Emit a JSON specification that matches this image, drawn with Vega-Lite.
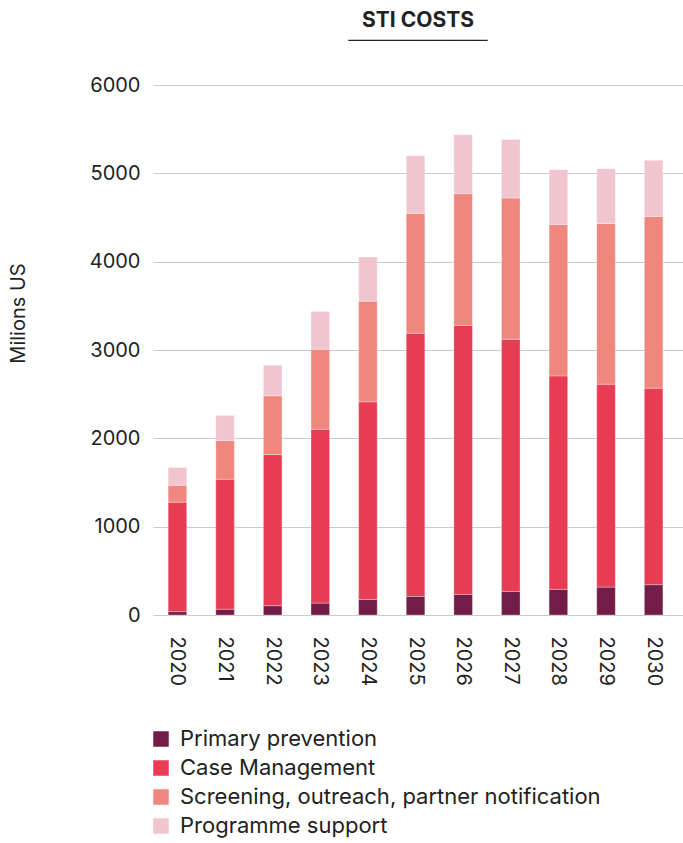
{
  "$schema": "https://vega.github.io/schema/vega-lite/v6.json",
  "width": 530,
  "height": 530,
  "autosize": {"type": "none"},
  "padding": {"left": 153, "top": 85, "right": 0, "bottom": 228},
  "background": "white",
  "title": {
    "text": "STI COSTS",
    "subtitle": "──────────────",
    "anchor": "middle",
    "frame": "group",
    "font": "Inter",
    "fontSize": 21,
    "fontWeight": 700,
    "color": "#222222",
    "subtitleFont": "DejaVu Sans Mono",
    "subtitleFontSize": 16.5,
    "subtitleColor": "#222222",
    "subtitlePadding": 2,
    "offset": 26
  },
  "data": {
    "values": [
      {"year": "2020", "cat": "Primary prevention", "v": 38},
      {"year": "2020", "cat": "Case Management", "v": 1239},
      {"year": "2020", "cat": "Screening, outreach, partner notification", "v": 191},
      {"year": "2020", "cat": "Programme support", "v": 202},
      {"year": "2021", "cat": "Primary prevention", "v": 65},
      {"year": "2021", "cat": "Case Management", "v": 1471},
      {"year": "2021", "cat": "Screening, outreach, partner notification", "v": 438},
      {"year": "2021", "cat": "Programme support", "v": 285},
      {"year": "2022", "cat": "Primary prevention", "v": 105},
      {"year": "2022", "cat": "Case Management", "v": 1711},
      {"year": "2022", "cat": "Screening, outreach, partner notification", "v": 665},
      {"year": "2022", "cat": "Programme support", "v": 346},
      {"year": "2023", "cat": "Primary prevention", "v": 135},
      {"year": "2023", "cat": "Case Management", "v": 1968},
      {"year": "2023", "cat": "Screening, outreach, partner notification", "v": 905},
      {"year": "2023", "cat": "Programme support", "v": 428},
      {"year": "2024", "cat": "Primary prevention", "v": 176},
      {"year": "2024", "cat": "Case Management", "v": 2238},
      {"year": "2024", "cat": "Screening, outreach, partner notification", "v": 1139},
      {"year": "2024", "cat": "Programme support", "v": 500},
      {"year": "2025", "cat": "Primary prevention", "v": 211},
      {"year": "2025", "cat": "Case Management", "v": 2978},
      {"year": "2025", "cat": "Screening, outreach, partner notification", "v": 1356},
      {"year": "2025", "cat": "Programme support", "v": 655},
      {"year": "2026", "cat": "Primary prevention", "v": 233},
      {"year": "2026", "cat": "Case Management", "v": 3046},
      {"year": "2026", "cat": "Screening, outreach, partner notification", "v": 1491},
      {"year": "2026", "cat": "Programme support", "v": 667},
      {"year": "2027", "cat": "Primary prevention", "v": 267},
      {"year": "2027", "cat": "Case Management", "v": 2854},
      {"year": "2027", "cat": "Screening, outreach, partner notification", "v": 1600},
      {"year": "2027", "cat": "Programme support", "v": 663},
      {"year": "2028", "cat": "Primary prevention", "v": 290},
      {"year": "2028", "cat": "Case Management", "v": 2417},
      {"year": "2028", "cat": "Screening, outreach, partner notification", "v": 1713},
      {"year": "2028", "cat": "Programme support", "v": 621},
      {"year": "2029", "cat": "Primary prevention", "v": 316},
      {"year": "2029", "cat": "Case Management", "v": 2297},
      {"year": "2029", "cat": "Screening, outreach, partner notification", "v": 1819},
      {"year": "2029", "cat": "Programme support", "v": 621},
      {"year": "2030", "cat": "Primary prevention", "v": 343},
      {"year": "2030", "cat": "Case Management", "v": 2225},
      {"year": "2030", "cat": "Screening, outreach, partner notification", "v": 1943},
      {"year": "2030", "cat": "Programme support", "v": 636}
    ]
  },
  "transform": [
    {"calculate": "indexof(['Primary prevention', 'Case Management', 'Screening, outreach, partner notification', 'Programme support'], datum.cat)", "as": "stackOrder"}
  ],
  "mark": {"type": "bar", "stroke": "#ffffff", "strokeWidth": 0.6, "strokeOpacity": 0.5},
  "encoding": {
    "x": {
      "field": "year",
      "type": "ordinal",
      "scale": {"paddingInner": 0.61, "paddingOuter": 0.37, "align": 0.43},
      "axis": {
        "title": null,
        "domain": false,
        "ticks": false,
        "labelAngle": 90,
        "labelAlign": "left",
        "labelBaseline": "middle",
        "labelPadding": 21,
        "labelFont": "Inter",
        "labelFontSize": 20,
        "labelColor": "#222222"
      }
    },
    "y": {
      "field": "v",
      "type": "quantitative",
      "stack": "zero",
      "scale": {"domain": [0, 6000]},
      "axis": {
        "values": [0, 1000, 2000, 3000, 4000, 5000, 6000],
        "format": "d",
        "domain": false,
        "ticks": false,
        "grid": true,
        "gridColor": "#c6cbd0",
        "gridWidth": 1.2,
        "labelPadding": 13,
        "labelFont": "Inter",
        "labelFontSize": 20,
        "labelColor": "#222222",
        "title": "Milions US",
        "titleFont": "Inter",
        "titleFontSize": 20,
        "titleFontWeight": "normal",
        "titleColor": "#222222",
        "titleAngle": -90,
        "titleAlign": "center",
        "titleBaseline": "bottom",
        "titleX": -125,
        "titleY": 228
      }
    },
    "color": {
      "field": "cat",
      "type": "nominal",
      "sort": ["Primary prevention", "Case Management", "Screening, outreach, partner notification", "Programme support"],
      "scale": {
        "domain": ["Primary prevention", "Case Management", "Screening, outreach, partner notification", "Programme support"],
        "range": ["#721d47", "#e83c54", "#f0877e", "#f1c5cf"]
      },
      "legend": {
        "title": null,
        "orient": "none",
        "legendX": -3,
        "legendY": 643,
        "direction": "vertical",
        "symbolType": "square",
        "symbolSize": 240,
        "symbolStrokeWidth": 0,
        "symbolOpacity": 1,
        "labelFont": "Inter",
        "labelFontSize": 22,
        "labelColor": "#222222",
        "labelOffset": 8,
        "rowPadding": 7,
        "labelLimit": 600
      }
    },
    "order": {"field": "stackOrder", "type": "quantitative", "sort": "ascending"}
  },
  "config": {
    "view": {"stroke": null}
  }
}
